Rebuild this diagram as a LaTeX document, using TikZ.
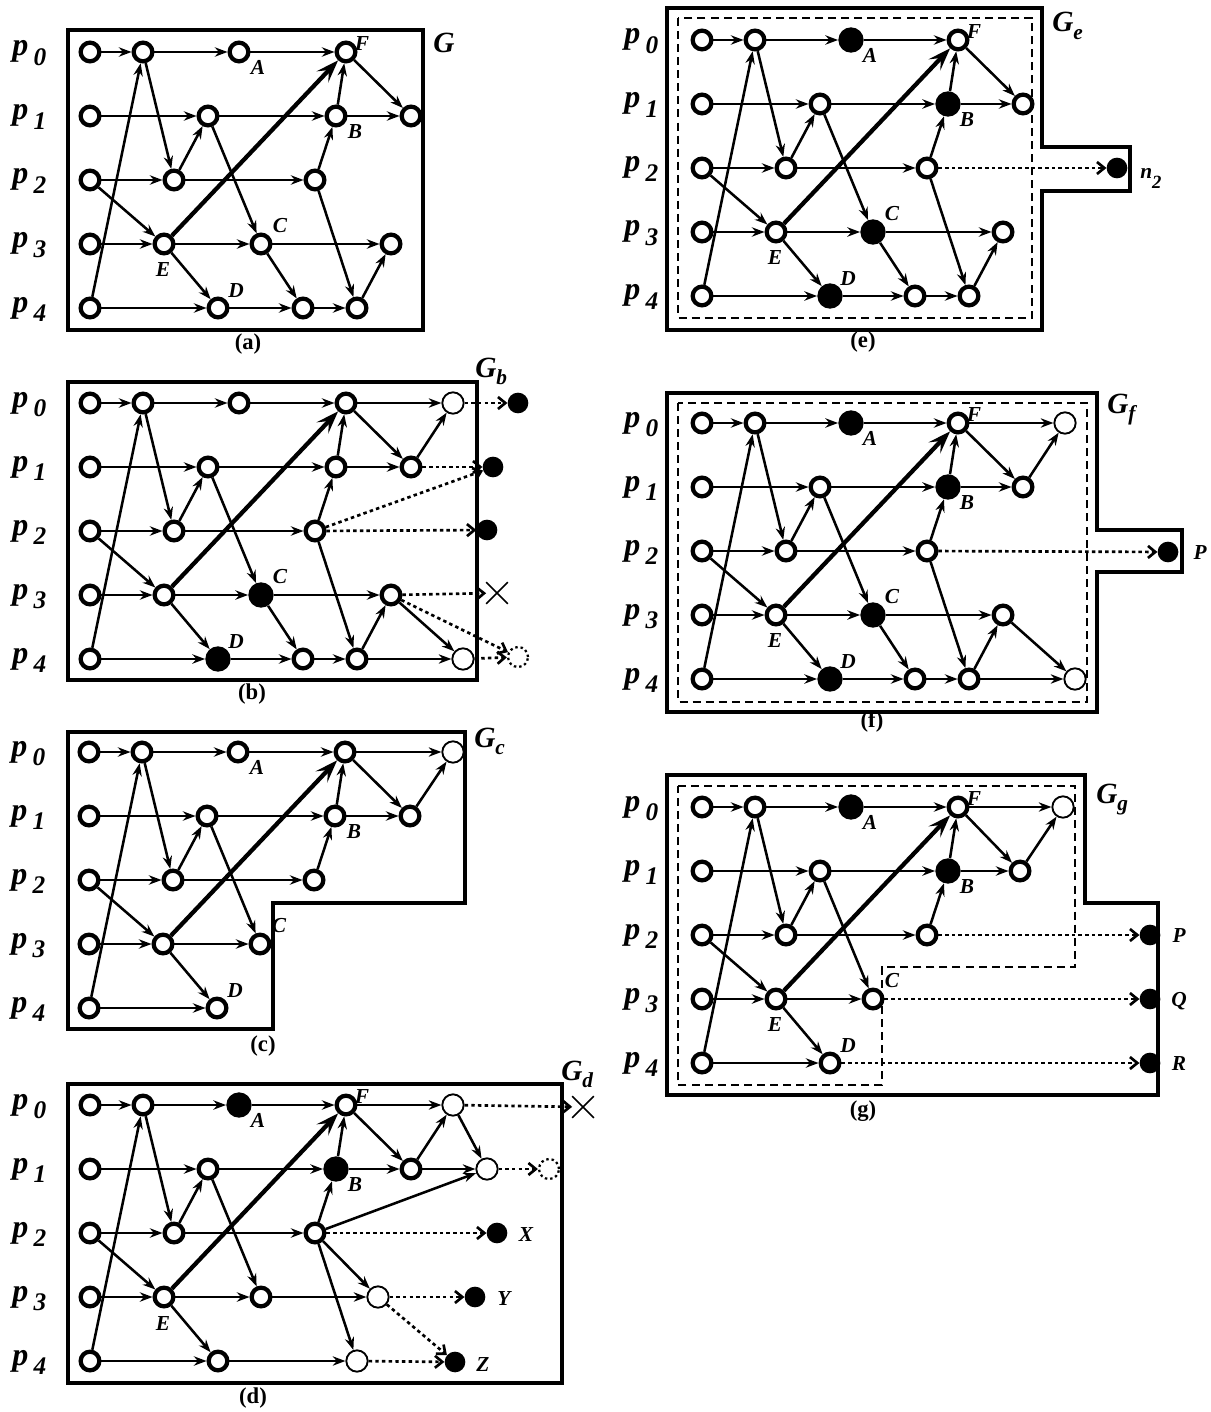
\documentclass[tikz,border=0pt]{standalone}
\usepackage{fontspec}
\setmainfont{Liberation Serif}
\usetikzlibrary{arrows.meta,shapes.misc}

\tikzset{
  opn/.style={circle, draw, fill=white, line width=3.2pt, minimum size=14pt, inner sep=0pt},
  thn/.style={circle, draw, fill=white, line width=1.4pt, minimum size=16pt, inner sep=0pt},
  fil/.style={circle, fill=black, minimum size=19pt, inner sep=0pt},
  sfil/.style={circle, fill=black, minimum size=15.5pt, inner sep=0pt},
  xmark/.style={draw, cross out, line width=1.3pt, minimum size=15pt, inner sep=0pt},
  dcirc/.style={circle, draw, line width=1.7pt, dash pattern=on 1.8pt off 2.2pt, minimum size=15pt, inner sep=0pt},
  edg/.style={line width=1.9pt, -{Stealth[length=9.5pt,width=7pt]}},
  thk/.style={line width=3.2pt, -{Stealth[length=17pt,width=12pt,inset=7pt]}},
  dts/.style={line width=2pt, dash pattern=on 2.6pt off 2.4pt, -{Straight Barb[length=5.5pt,width=9pt]}},
  outl/.style={line width=2.3pt, line join=miter},
  inl/.style={line width=1.8pt, dash pattern=on 6pt off 3.8pt},
  lab/.style={inner sep=0pt, font=\fontsize{16}{16}\selectfont\bfseries\itshape},
  glab/.style={inner sep=0pt, anchor=base west, font=\fontsize{22}{22}\selectfont\bfseries\itshape},
  plab/.style={inner sep=0pt, anchor=base west, font=\fontsize{24}{24}\selectfont\bfseries\itshape},
  capt/.style={inner sep=0pt, font=\fontsize{17}{17}\selectfont\bfseries},
}
\newcommand\pl[1]{p\hspace{4pt}\raisebox{-7pt}{\fontsize{19}{19}\selectfont #1}}
\newcommand\gsub[2]{#1\raisebox{-5.5pt}{\fontsize{16}{16}\selectfont #2}}

\newcommand\corenodes[1]{%
  \node[opn] (#100) at (0,0) {};
  \node[opn] (#101) at (53,0) {};
  \node[tA]  (#102) at (149,0) {};
  \node[opn] (#103) at (256,0) {};
  \node[opn] (#110) at (0,64) {};
  \node[opn] (#111) at (118,64) {};
  \node[tB]  (#112) at (246,64) {};
  \node[opn] (#120) at (0,128) {};
  \node[opn] (#121) at (84,128) {};
  \node[opn] (#122) at (225,128) {};
  \node[opn] (#130) at (0,192) {};
  \node[opn] (#131) at (74,192) {};
  \node[tC]  (#132) at (171,192) {};
  \node[opn] (#140) at (0,256) {};
  \node[tD]  (#141) at (128,256) {};
  \node[plab] (#1p0) at (-78,4) {\pl{0}};
  \node[plab] (#1p1) at (-78,68) {\pl{1}};
  \node[plab] (#1p2) at (-78,132) {\pl{2}};
  \node[plab] (#1p3) at (-78,196) {\pl{3}};
  \node[plab] (#1p4) at (-78,260) {\pl{4}};
}
\newcommand\coreedges[1]{%
  \draw[edg] (#100) -- (#101);
  \draw[edg] (#101) -- (#102);
  \draw[edg] (#102) -- (#103);
  \draw[edg] (#140) -- (#101);
  \draw[edg] (#101) -- (#121);
  \draw[edg] (#121) -- (#111);
  \draw[edg] (#110) -- (#111);
  \draw[edg] (#111) -- (#112);
  \draw[edg] (#112) -- (#103);
  \draw[edg] (#122) -- (#112);
  \draw[edg] (#120) -- (#121);
  \draw[edg] (#121) -- (#122);
  \draw[edg] (#111) -- (#132);
  \draw[edg] (#120) -- (#131);
  \draw[edg] (#130) -- (#131);
  \draw[edg] (#131) -- (#132);
  \draw[thk] (#131) -- (#103);
  \draw[edg] (#131) -- (#141);
  \draw[edg] (#140) -- (#141);
}
\newcommand\lA[1]{\node[lab] (#1lA) at (168,15) {A};}
\newcommand\lF[1]{\node[lab] (#1lF) at (272,-8) {F};}
\newcommand\lB[1]{\node[lab] (#1lB) at (265,80) {B};}
\newcommand\lC[1]{\node[lab] (#1lC) at (190,174) {C};}
\newcommand\lE[1]{\node[lab] (#1lE) at (73,218) {E};}
\newcommand\lD[1]{\node[lab] (#1lD) at (146,239) {D};}

\begin{document}
\begin{tikzpicture}[x=0.75pt,y=-0.75pt]
\useasboundingbox (0,0) rectangle (1210,1412);
\fill[white] (0,0) rectangle (1210,1412);

% ---------------- (a)
\begin{scope}[shift={(90,52)}, tA/.style=opn, tB/.style=opn, tC/.style=opn, tD/.style=opn]
\corenodes{a}
\node[opn] (a13) at (321,64) {};
\node[opn] (a33) at (301,192) {};
\node[opn] (a42) at (213,256) {};
\node[opn] (a43) at (267,256) {};
\lA{a}\lF{a}\lB{a}\lC{a}\lE{a}\lD{a}
\end{scope}
\coreedges{a}
\draw[edg] (a03) -- (a13);
\draw[edg] (a12) -- (a13);
\draw[edg] (a32) -- (a33);
\draw[edg] (a41) -- (a42);
\draw[edg] (a32) -- (a42);
\draw[edg] (a42) -- (a43);
\draw[edg] (a22) -- (a43);
\draw[edg] (a43) -- (a33);
\draw[outl] (68,30) rectangle (423,330);
\node[glab] (aG) at (433,53) {G};
\node[capt] (acap) at (248,344) {(a)};

% ---------------- (b)
\begin{scope}[shift={(90,403)}, tA/.style=opn, tB/.style=opn, tC/.style=fil, tD/.style=fil]
\corenodes{b}
\node[thn] (b04) at (363,0) {};
\node[opn] (b13) at (321,64) {};
\node[opn] (b33) at (301,192) {};
\node[opn] (b42) at (213,256) {};
\node[opn] (b43) at (267,256) {};
\node[thn] (b44) at (373,256) {};
\lC{b}\lD{b}
\end{scope}
\node[sfil] (bf0) at (518,403) {};
\node[sfil] (bf1) at (493,467) {};
\node[sfil] (bf2) at (487,530) {};
\node[xmark] (bx) at (497,593) {};
\node[dcirc] (bdc) at (518,657) {};
\coreedges{b}
\draw[edg] (b03) -- (b04);
\draw[edg] (b03) -- (b13);
\draw[edg] (b13) -- (b04);
\draw[edg] (b12) -- (b13);
\draw[edg] (b32) -- (b33);
\draw[edg] (b41) -- (b42);
\draw[edg] (b32) -- (b42);
\draw[edg] (b42) -- (b43);
\draw[edg] (b22) -- (b43);
\draw[edg] (b43) -- (b33);
\draw[edg] (b33) -- (b44);
\draw[edg] (b43) -- (b44);
\draw[dts] (b04) -- (bf0);
\draw[dts] (b13) -- (bf1);
\draw[dts] (b22) -- (bf1);
\draw[dts] (b22) -- (bf2);
\draw[dts] (b33) -- (bx);
\draw[dts] (b33) -- (bdc);
\draw[dts] (b44) -- (bdc);
\draw[outl] (68,382) rectangle (477,680);
\node[glab] (bG) at (475,377) {\gsub{G}{b}};
\node[capt] (bcap) at (252,694) {(b)};

% ---------------- (c)
\begin{scope}[shift={(89,752)}, tA/.style=opn, tB/.style=opn, tC/.style=opn, tD/.style=opn]
\corenodes{c}
\node[thn] (c04) at (364,0) {};
\node[opn] (c13) at (321,64) {};
\lA{c}\lB{c}\lC{c}\lD{c}
\end{scope}
\coreedges{c}
\draw[edg] (c03) -- (c04);
\draw[edg] (c03) -- (c13);
\draw[edg] (c13) -- (c04);
\draw[edg] (c12) -- (c13);
\draw[outl] (68,732) -- (465,732) -- (465,903) -- (273,903) -- (273,1029) -- (68,1029) -- cycle;
\node[glab] (cG) at (474,747) {\gsub{G}{c}};
\node[capt] (ccap) at (263,1046) {(c)};

% ---------------- (d)
\begin{scope}[shift={(90,1105)}, tA/.style=fil, tB/.style=fil, tC/.style=opn, tD/.style=opn]
\corenodes{d}
\node[thn] (d04) at (363,0) {};
\node[opn] (d13) at (321,64) {};
\node[thn] (d14) at (397,64) {};
\node[thn] (d33) at (288,192) {};
\node[thn] (d42) at (267,256) {};
\lA{d}\lF{d}\lB{d}\lE{d}
\end{scope}
\node[xmark] (dx) at (583,1107) {};
\node[dcirc] (ddc) at (549,1169) {};
\node[sfil] (dX) at (497,1233) {};
\node[sfil] (dY) at (475,1297) {};
\node[sfil] (dZ) at (455,1362) {};
\node[lab] (dXl) at (526,1235) {X};
\node[lab] (dYl) at (504,1299) {Y};
\node[lab] (dZl) at (483,1364) {Z};
\coreedges{d}
\draw[edg] (d03) -- (d04);
\draw[edg] (d03) -- (d13);
\draw[edg] (d13) -- (d04);
\draw[edg] (d12) -- (d13);
\draw[edg] (d04) -- (d14);
\draw[edg] (d13) -- (d14);
\draw[edg] (d22) -- (d14);
\draw[edg] (d32) -- (d33);
\draw[edg] (d22) -- (d33);
\draw[edg] (d41) -- (d42);
\draw[edg] (d22) -- (d42);
\draw[dts] (d04) -- (dx);
\draw[dts] (d14) -- (ddc);
\draw[dts] (d22) -- (dX);
\draw[dts] (d33) -- (dY);
\draw[dts] (d33) -- (dZ);
\draw[dts] (d42) -- (dZ);
\draw[outl] (68,1084) rectangle (562,1383);
\node[glab] (dG) at (561,1080) {\gsub{G}{d}};
\node[capt] (dcap) at (253,1398) {(d)};

% ---------------- (e)
\begin{scope}[shift={(702,40)}, tA/.style=fil, tB/.style=fil, tC/.style=fil, tD/.style=fil]
\corenodes{e}
\node[opn] (e13) at (321,64) {};
\node[opn] (e33) at (301,192) {};
\node[opn] (e42) at (213,256) {};
\node[opn] (e43) at (267,256) {};
\lA{e}\lF{e}\lB{e}\lC{e}\lE{e}\lD{e}
\end{scope}
\node[sfil] (en2) at (1117,168) {};
\node[lab, anchor=base west] (en2l) at (1140,179) {n\raisebox{-7pt}{\fontsize{14}{14}\selectfont 2}};
\coreedges{e}
\draw[edg] (e03) -- (e13);
\draw[edg] (e12) -- (e13);
\draw[edg] (e32) -- (e33);
\draw[edg] (e41) -- (e42);
\draw[edg] (e32) -- (e42);
\draw[edg] (e42) -- (e43);
\draw[edg] (e22) -- (e43);
\draw[edg] (e43) -- (e33);
\draw[dts] (e22) -- (en2);
\draw[outl] (667,8) -- (1042,8) -- (1042,147) -- (1130,147) -- (1130,191) -- (1042,191) -- (1042,330) -- (667,330) -- cycle;
\draw[inl] (678,18) rectangle (1032,318);
\node[glab] (eG) at (1052,32) {\gsub{G}{e}};
\node[capt] (ecap) at (863,342) {(e)};

% ---------------- (f)
\begin{scope}[shift={(702,423)}, tA/.style=fil, tB/.style=fil, tC/.style=fil, tD/.style=fil]
\corenodes{f}
\node[thn] (f04) at (363,0) {};
\node[opn] (f13) at (321,64) {};
\node[opn] (f33) at (301,192) {};
\node[opn] (f42) at (213,256) {};
\node[opn] (f43) at (267,256) {};
\node[thn] (f44) at (373,256) {};
\lA{f}\lF{f}\lB{f}\lC{f}\lE{f}\lD{f}
\end{scope}
\node[sfil] (fP) at (1168,552) {};
\node[lab] (fPl) at (1200,553) {P};
\coreedges{f}
\draw[edg] (f03) -- (f04);
\draw[edg] (f03) -- (f13);
\draw[edg] (f13) -- (f04);
\draw[edg] (f12) -- (f13);
\draw[edg] (f32) -- (f33);
\draw[edg] (f41) -- (f42);
\draw[edg] (f32) -- (f42);
\draw[edg] (f42) -- (f43);
\draw[edg] (f22) -- (f43);
\draw[edg] (f43) -- (f33);
\draw[edg] (f33) -- (f44);
\draw[edg] (f43) -- (f44);
\draw[dts] (f22) -- (fP);
\draw[outl] (667,393) -- (1097,393) -- (1097,530) -- (1182,530) -- (1182,572) -- (1097,572) -- (1097,712) -- (667,712) -- cycle;
\draw[inl] (678,403) rectangle (1087,702);
\node[glab] (fG) at (1107,413) {\gsub{G}{f}};
\node[capt] (fcap) at (872,722) {(f)};

% ---------------- (g)
\begin{scope}[shift={(702,807)}, tA/.style=fil, tB/.style=fil, tC/.style=opn, tD/.style=opn]
\corenodes{g}
\node[thn] (g04) at (361,0) {};
\node[opn] (g13) at (318,64) {};
\lA{g}\lF{g}\lB{g}\lC{g}\lE{g}\lD{g}
\end{scope}
\node[sfil] (gP) at (1150,935) {};
\node[sfil] (gQ) at (1150,999) {};
\node[sfil] (gR) at (1150,1063) {};
\node[lab] (gPl) at (1179,936) {P};
\node[lab] (gQl) at (1179,1001) {Q};
\node[lab] (gRl) at (1179,1064) {R};
\coreedges{g}
\draw[edg] (g03) -- (g04);
\draw[edg] (g03) -- (g13);
\draw[edg] (g13) -- (g04);
\draw[edg] (g12) -- (g13);
\draw[dts] (g22) -- (gP);
\draw[dts] (g32) -- (gQ);
\draw[dts] (g41) -- (gR);
\draw[outl] (667,775) -- (1085,775) -- (1085,903) -- (1158,903) -- (1158,1095) -- (667,1095) -- cycle;
\draw[inl] (678,786) -- (1075,786) -- (1075,967) -- (882,967) -- (882,1085) -- (678,1085) -- cycle;
\node[glab] (gG) at (1096,803) {\gsub{G}{g}};
\node[capt] (gcap) at (863,1111) {(g)};
\end{tikzpicture}
\end{document}
